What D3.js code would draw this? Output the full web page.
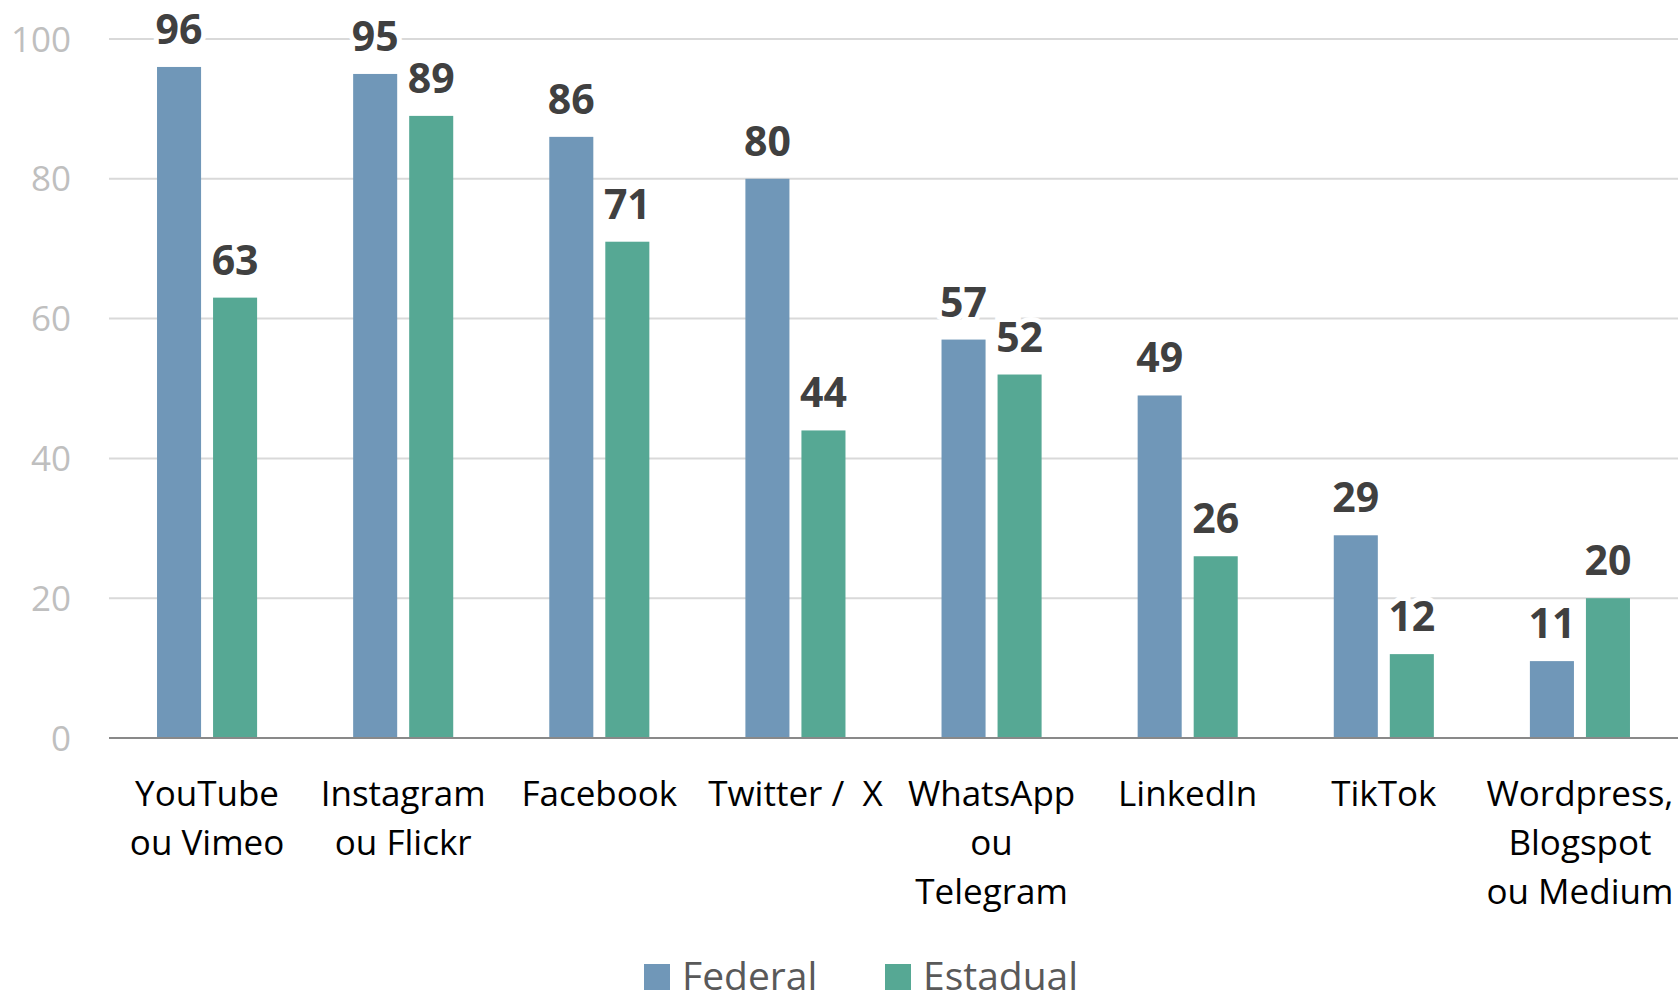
<!DOCTYPE html>
<html lang="pt">
<head>
<meta charset="UTF-8">
<script src="https://d3js.org/d3.v7.min.js"></script>
<style>
    body{ margin:0; background:#fff; }
    text{ font-family: 'Open Sans', 'Noto Sans', sans-serif; }
    .tick-label{ font-size: 35px; fill: #bfbfbf; text-anchor: end; }
    .value{ font-size: 41px; font-weight: 700; fill: #404040; text-anchor: middle;
            stroke: #fff; stroke-width: 10px; paint-order: stroke; }
    .cat{ font-size: 35px; fill: #000; text-anchor: middle; }
    .legend{ font-size: 39px; fill: #595959; }
</style>
</head>
<body>
<svg width="1680" height="1001"></svg>
<script>
    // data
    const categories = ["YouTube\nou Vimeo", "Instagram\nou Flickr", "Facebook", "Twitter /  X",
        "WhatsApp\nou\nTelegram", "LinkedIn", "TikTok", "Wordpress,\nBlogspot\nou Medium"];
    const series = ["Federal", "Estadual"];
    const federal = [96, 95, 86, 80, 57, 49, 29, 11];
    const estadual = [63, 89, 71, 44, 52, 26, 12, 20];
    const yTicks = [0, 20, 40, 60, 80, 100];
    const colors = ["#7097b8", "#56a894"];

    const svg = d3.select("svg");
    const plotL = 109, plotR = 1678, plotT = 39, plotB = 738;

    const x0 = d3.scaleBand().domain(d3.range(categories.length)).range([plotL, plotR]);
    const x1 = d3.scaleBand().domain(series).range([0, x0.bandwidth()])
        .paddingInner(0.214).paddingOuter(0.857);
    const y = d3.scaleLinear().domain([0, 100]).range([plotB, plotT]);
    const color = d3.scaleOrdinal().domain(series).range(colors);

    const rows = categories.map((c, i) => ({cat: i, Federal: federal[i], Estadual: estadual[i]}));

    // gridlines
    svg.append("g").selectAll("line").data(yTicks.filter(t => t > 0)).join("line")
        .attr("x1", plotL).attr("x2", plotR)
        .attr("y1", d => y(d)).attr("y2", d => y(d))
        .attr("stroke", "#d9d9d9").attr("stroke-width", 2);

    // y tick labels
    svg.append("g").selectAll("text").data(yTicks).join("text").attr("class", "tick-label")
        .attr("x", 71).attr("y", d => y(d)).attr("dy", "0.36em")
        .text(d => d);

    // bars
    const groups = svg.append("g").selectAll("g").data(rows).join("g")
        .attr("transform", d => `translate(${x0(d.cat)},0)`);
    groups.selectAll("rect").data(d => series.map(s => ({s, v: d[s]}))).join("rect")
        .attr("x", d => x1(d.s)).attr("width", x1.bandwidth())
        .attr("y", d => y(d.v)).attr("height", d => y(0) - y(d.v))
        .attr("fill", d => color(d.s));

    // baseline
    svg.append("line").attr("x1", plotL).attr("x2", plotR)
        .attr("y1", y(0)).attr("y2", y(0))
        .attr("stroke", "#898989").attr("stroke-width", 2);

    // value labels
    groups.selectAll("text.value").data(d => series.map(s => ({s, v: d[s]}))).join("text")
        .attr("class", "value")
        .attr("x", d => x1(d.s) + x1.bandwidth() / 2)
        .attr("y", d => y(d.v) - 23)
        .text(d => d.v);

    // category labels
    svg.append("g").selectAll("text").data(categories).join("text").attr("class", "cat")
        .attr("transform", (d, i) => `translate(${x0(i) + x0.bandwidth() / 2},806)`)
        .attr("xml:space", "preserve")
        .selectAll("tspan").data(d => d.split("\n")).join("tspan")
        .attr("x", 0).attr("y", (d, i) => i * 49)
        .text(d => d);

    // legend
    const legendX = [644, 885];
    const lg = svg.append("g").selectAll("g").data(series).join("g")
        .attr("transform", (d, i) => `translate(${legendX[i]},964)`);
    lg.append("rect").attr("width", 26).attr("height", 26).attr("fill", d => color(d));
    lg.append("text").attr("class", "legend").attr("x", 38).attr("y", 26).text(d => d);
</script>
</body>
</html>
